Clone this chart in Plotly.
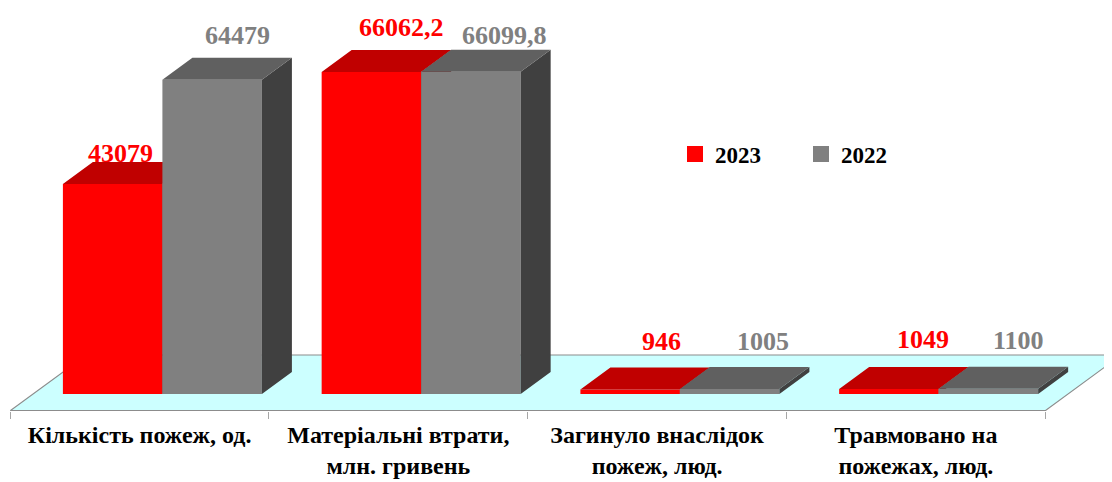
import plotly.graph_objects as go

# ---------------- data ----------------
categories = [
    "Кількість пожеж, од.",
    "Матеріальні втрати,<br>млн. гривень",
    "Загинуло внаслідок<br>пожеж, люд.",
    "Травмовано на<br>пожежах, люд.",
]
series_names = ["2023", "2022"]
values_2023 = [43079, 66062.2, 946, 1049]
values_2022 = [64479, 66099.8, 1005, 1100]

# ---------------- style / geometry ----------------
PAGE_OFF = 8                 # browser body margin
FIG_W, FIG_H = 1112 - PAGE_OFF, 482 - PAGE_OFF
MARGIN_B = 71
PH = FIG_H - MARGIN_B
CAT_PX = 258.75              # pixels per category
X0_PX = 162.4 - PAGE_OFF     # pixel of first category centre (front plane of bars)
PX_PER_UNIT = 0.004874
ZERO_PX = 17                 # value 0 (bar front base) above plot bottom
Y_RANGE = [-ZERO_PX / PX_PER_UNIT, (PH - ZERO_PX) / PX_PER_UNIT]
X_RANGE = [-X0_PX / CAT_PX, (FIG_W - X0_PX) / CAT_PX]

BAR_W = 99.5 / CAT_PX
DEPTH = (30, 22)              # bar depth projection (px right, px up)
FLOOR_FRONT = (-22.8, -16.7)  # floor front edge relative to bar front plane
FLOOR_BACK = (53.2, 39.0)     # floor back edge relative to bar front plane

FONT = "Liberation Serif"
COLORS = {
    "2023": dict(front="#FF0000", top="#C00000", side="#800000", label="#FF0000"),
    "2022": dict(front="#808080", top="#606060", side="#404040", label="#808080"),
}
# label offsets in px (right, up) from the bar's front top centre
LABEL_SHIFT = {
    "2023": [(8, 31), (30, 45), (31, 48), (34, 49)],
    "2022": [(25, 44), (34, 36), (33, 48), (30, 48)],
}


def ux(px):
    return px / CAT_PX


def uy(px):
    return px / PX_PER_UNIT


def fmt(v):
    s = str(int(v)) if float(v).is_integer() else str(v)
    return s.replace(".", ",")


fig = go.Figure()

# ---------------- floor (subplot x/y, bottom layer) ----------------
n = len(categories)
fl = -0.5
fr = n - 0.5
fx = [fl + ux(FLOOR_FRONT[0]), fr + ux(FLOOR_FRONT[0]), fr + ux(FLOOR_BACK[0]),
      fl + ux(FLOOR_BACK[0]), fl + ux(FLOOR_FRONT[0])]
fy = [uy(FLOOR_FRONT[1]), uy(FLOOR_FRONT[1]), uy(FLOOR_BACK[1]),
      uy(FLOOR_BACK[1]), uy(FLOOR_FRONT[1])]
fig.add_trace(go.Scatter(
    x=fx, y=fy, mode="lines", fill="toself", fillcolor="#CCFFFF",
    line=dict(color="#8C8C8C", width=1.2), hoverinfo="skip", showlegend=False,
    xaxis="x", yaxis="y",
))

# ---------------- bars (one overlaid subplot per series, for draw order) ----------------
all_values = {"2023": values_2023, "2022": values_2022}
offsets = {"2023": -BAR_W, "2022": 0.0}
axes = {"2023": ("x2", "y2"), "2022": ("x3", "y3")}
xs = list(range(n))
dx, dy = ux(DEPTH[0]), uy(DEPTH[1])

for name in series_names:
    vals = all_values[name]
    off = offsets[name]
    xa, ya = axes[name]
    c = COLORS[name]
    fig.add_trace(go.Bar(
        x=xs, y=vals, width=BAR_W, offset=off,
        marker=dict(color=c["front"], line=dict(width=0)),
        xaxis=xa, yaxis=ya, showlegend=False, name=name, hoverinfo="skip",
    ))
    sx, sy, tx, ty = [], [], [], []
    for i, v in zip(xs, vals):
        l = i + off
        r = l + BAR_W
        sx += [r, r, r + dx, r + dx, r, None]
        sy += [0, v, v + dy, dy, 0, None]
        tx += [l, r, r + dx, l + dx, l, None]
        ty += [v, v, v + dy, v + dy, v, None]
    fig.add_trace(go.Scatter(
        x=sx, y=sy, mode="lines", fill="toself", fillcolor=c["side"],
        line=dict(width=0, color=c["side"]), hoverinfo="skip", showlegend=False,
        xaxis=xa, yaxis=ya,
    ))
    fig.add_trace(go.Scatter(
        x=tx, y=ty, mode="lines", fill="toself", fillcolor=c["top"],
        line=dict(width=0, color=c["top"]), hoverinfo="skip", showlegend=False,
        xaxis=xa, yaxis=ya,
    ))
    # value labels
    for i, v, (sxp, syp) in zip(xs, vals, LABEL_SHIFT[name]):
        fig.add_annotation(
            x=i + off + BAR_W / 2, y=v, xref=xa, yref=ya,
            text=fmt(v), showarrow=False, xanchor="center", yanchor="middle",
            xshift=sxp, yshift=syp,
            font=dict(family=FONT, size=26, color=c["label"], weight="bold"),
        )

# legend entries
for name in series_names:
    fig.add_trace(go.Scatter(
        x=[None], y=[None], mode="markers", name=name,
        marker=dict(symbol="square", size=16, color=COLORS[name]["front"]),
        xaxis="x", yaxis="y",
    ))

tick_shift = ux(FLOOR_FRONT[0])
axis_common = dict(range=X_RANGE, showgrid=False, zeroline=False, showline=False,
                   automargin=False)
fig.update_layout(
    width=FIG_W, height=FIG_H,
    margin=dict(l=0, r=0, t=0, b=MARGIN_B, autoexpand=False),
    paper_bgcolor="white", plot_bgcolor="rgba(0,0,0,0)",
    showlegend=True,
    legend=dict(
        orientation="h", x=(675 - PAGE_OFF) / FIG_W, xanchor="left",
        y=1 - (154 - PAGE_OFF) / PH, yanchor="middle",
        font=dict(family=FONT, size=23, color="black", weight="bold"),
        bgcolor="rgba(0,0,0,0)", borderwidth=0, entrywidth=81,
    ),
    xaxis=dict(
        **axis_common,
        tickmode="array",
        tickvals=[i + tick_shift for i in xs],
        ticktext=categories,
        ticks="",
        ticklabelstandoff=7,
        tickfont=dict(family=FONT, size=24, color="black", weight="bold"),
        minor=dict(
            tickmode="array",
            tickvals=[i - 0.5 + tick_shift for i in range(n + 1)],
            ticks="outside", ticklen=7, tickcolor="#A6A6A6", tickwidth=1,
        ),
    ),
    yaxis=dict(range=Y_RANGE, visible=False, automargin=False),
    xaxis2=dict(**axis_common, overlaying="x", visible=False),
    yaxis2=dict(range=Y_RANGE, overlaying="y", visible=False, automargin=False),
    xaxis3=dict(**axis_common, overlaying="x", visible=False),
    yaxis3=dict(range=Y_RANGE, overlaying="y", visible=False, automargin=False),
)

fig.write_html("out.html")
